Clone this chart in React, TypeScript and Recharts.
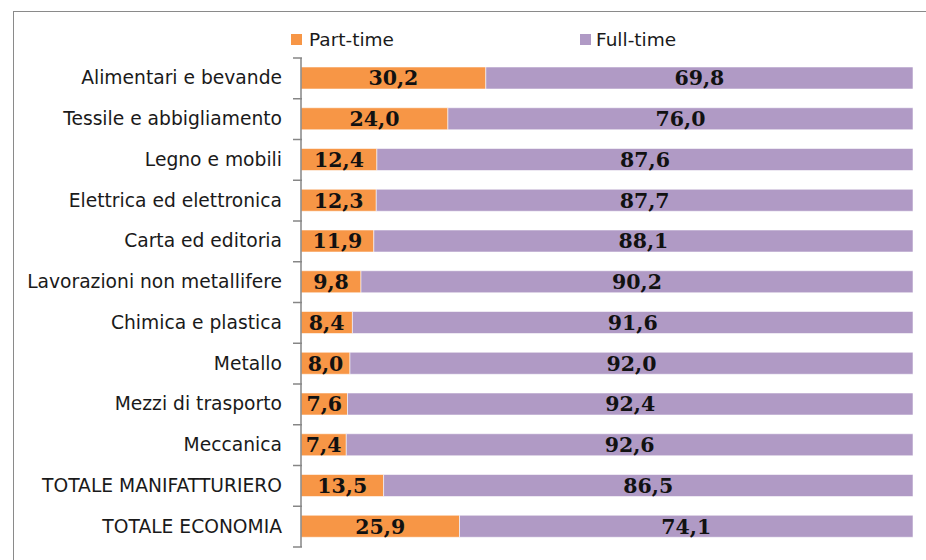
import { BarChart, Bar, XAxis, YAxis, LabelList } from 'recharts'

const categories = [
  'Alimentari e bevande',
  'Tessile e abbigliamento',
  'Legno e mobili',
  'Elettrica ed elettronica',
  'Carta ed editoria',
  'Lavorazioni non metallifere',
  'Chimica e plastica',
  'Metallo',
  'Mezzi di trasporto',
  'Meccanica',
  'TOTALE MANIFATTURIERO',
  'TOTALE ECONOMIA',
]
const partTime = [30.2, 24.0, 12.4, 12.3, 11.9, 9.8, 8.4, 8.0, 7.6, 7.4, 13.5, 25.9]
const fullTime = [69.8, 76.0, 87.6, 87.7, 88.1, 90.2, 91.6, 92.0, 92.4, 92.6, 86.5, 74.1]

const ORANGE = '#f79646'
const PURPLE = '#b09ac5'
const AXIS = '#868686'
const FONT = '"DejaVu Sans", Tahoma, sans-serif'

const data = categories.map((name, i) => ({ name, part: partTime[i], full: fullTime[i] }))

const fmt = (v: any) => Number(v).toFixed(1).replace('.', ',')

const TOP = 58
const BOTTOM = 13
const HEIGHT = 560
const band = (HEIGHT - TOP - BOTTOM) / categories.length

const CategoryTick = ({ x, y, payload, index }: any) => (
  <g>
    <text x={x - 11} y={y} dy={6} textAnchor="end" fontSize={18.7} fontFamily={FONT} fill="#1a1a1a">
      {payload.value}
    </text>
    <line x1={x} x2={x + 9} y1={y - band / 2} y2={y - band / 2} stroke={AXIS} strokeWidth={1.5} />
    {index === categories.length - 1 && (
      <line x1={x} x2={x + 9} y1={y + band / 2} y2={y + band / 2} stroke={AXIS} strokeWidth={1.5} />
    )}
  </g>
)

// legend drawn outside the chart so it doesn't eat plot space
const ChartLegend = () => (
  <div style={{ position: 'absolute', left: 0, top: 29, width: 926, fontFamily: FONT, fontSize: 18.5, color: '#1a1a1a' }}>
    <div style={{ position: 'absolute', left: 291, top: 0, display: 'flex', alignItems: 'center', gap: 7 }}>
      <span style={{ width: 11, height: 11, background: ORANGE, display: 'inline-block' }} />
      <span>Part-time</span>
    </div>
    <div style={{ position: 'absolute', left: 580, top: 0, display: 'flex', alignItems: 'center', gap: 5 }}>
      <span style={{ width: 11, height: 11, background: PURPLE, display: 'inline-block' }} />
      <span>Full-time</span>
    </div>
  </div>
)

const labelStyle = { fontFamily: '"DejaVu Serif", serif', fontWeight: 'bold', fontSize: 20.5 }

export default function App() {
  return (
    <div style={{ position: 'absolute', left: 0, top: 0, width: 926, height: 560, overflow: 'hidden', background: '#fff' }}>
      <div
        style={{
          position: 'absolute',
          left: 13,
          top: 11,
          width: 1000,
          height: 1000,
          border: '1.5px solid #8a8a8a',
        }}
      />
      <ChartLegend />
      <div style={{ position: 'absolute', left: 0, top: 0 }}>
        <BarChart
          width={926}
          height={HEIGHT}
          data={data}
          layout="vertical"
          margin={{ top: TOP, right: 13, bottom: BOTTOM, left: 10 }}
          barSize={22}
        >
          <XAxis type="number" domain={[0, 100]} hide />
          <YAxis
            type="category"
            dataKey="name"
            width={291}
            axisLine={{ stroke: AXIS, strokeWidth: 1.5 }}
            tickLine={false}
            tick={<CategoryTick />}
            interval={0}
          />
          <Bar dataKey="part" stackId="a" fill={ORANGE} stroke="rgba(255,255,255,0.55)" strokeWidth={1} isAnimationActive={false}>
            <LabelList dataKey="part" position="center" formatter={fmt} fill="#111" style={labelStyle} />
          </Bar>
          <Bar dataKey="full" stackId="a" fill={PURPLE} stroke="rgba(255,255,255,0.55)" strokeWidth={1} isAnimationActive={false}>
            <LabelList dataKey="full" position="center" formatter={fmt} fill="#111" style={labelStyle} />
          </Bar>
        </BarChart>
      </div>
    </div>
  )
}
